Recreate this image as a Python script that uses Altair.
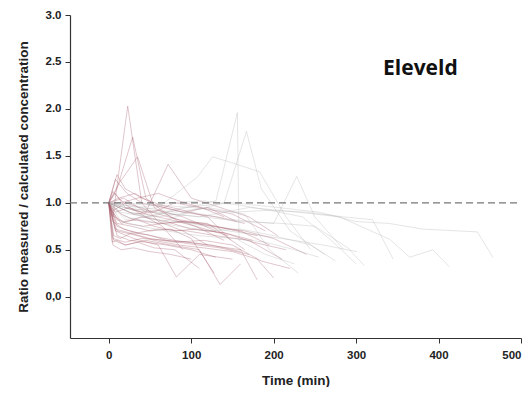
import altair as alt
import pandas as pd

# Each patient series: times (min), ratios measured/calculated, colour group
TIMES = [
    [0, 5, 23, 40, 60, 90, 120],
    [0, 10, 29, 45, 75, 105, 140],
    [0, 12, 35, 55, 85, 120, 165],
    [0, 18, 45, 72, 100, 135, 170, 205],
    [0, 30, 60, 107, 126, 155, 183, 215, 245],
    [0, 20, 55, 95, 130, 156, 158, 190, 225],
    [0, 30, 65, 105, 140, 167, 185, 220, 262],
    [0, 25, 60, 100, 150, 200, 228, 250, 285],
    [0, 15, 45, 90, 150, 205, 255, 300, 340, 381, 447, 466],
    [0, 20, 60, 110, 170, 230, 280, 308, 341, 365, 393, 413],
    [0, 8, 30, 60, 82, 110, 150],
    [0, 6, 20, 45, 75, 110, 135, 160],
    [0, 10, 25, 50, 80, 120, 160, 180],
    [0, 5, 15, 40, 70, 100, 140, 175],
    [0, 8, 20, 40, 60, 90, 130],
    [0, 12, 30, 55, 80, 110, 150, 190],
    [0, 5, 18, 35, 60, 95, 130, 170, 210],
    [0, 10, 25, 45, 70, 100, 130],
    [0, 8, 22, 40, 65, 90, 120, 155],
    [0, 15, 30, 60, 90, 125, 160, 195],
    [0, 6, 20, 38, 60, 85, 115, 145, 180],
    [0, 10, 28, 50, 75, 100, 128],
    [0, 7, 18, 35, 55, 80, 105, 140, 175, 215],
    [0, 12, 32, 55, 90, 130, 165],
    [0, 5, 15, 30, 50, 75, 100],
    [0, 10, 20, 40, 62, 90, 120, 148],
    [0, 20, 50, 85, 120, 160, 200, 245, 275],
    [0, 30, 70, 115, 160, 210, 250, 290, 310],
    [0, 25, 60, 100, 145, 185, 225, 260, 301],
    [0, 8, 25, 50, 80, 115, 150, 185, 220],
    [0, 15, 35, 60, 85, 112, 140],
    [0, 40, 80, 120, 165, 195, 230],
    [0, 6, 14, 28, 48, 70, 95, 125, 160],
    [0, 10, 22, 42, 66, 95, 128, 165, 200, 240],
    [0, 35, 75, 115, 155, 195, 235, 270, 300],
    [0, 5, 12, 25, 45, 65, 90],
    [0, 4, 10, 20, 35, 55, 80, 110],
    [0, 50, 100, 150, 195, 240, 285, 320, 345],
    [0, 10, 30, 55, 85, 115, 150, 180, 200],
    [0, 5, 20, 40, 70, 100, 135, 170],
    [0, 15, 40, 70, 110, 150, 190, 225, 255],
    [0, 8, 25, 45, 75, 105, 145],
]
RATIOS = [
    [1, 0.85, 2.03, 1.0, 0.8, 0.7, 0.55],
    [1, 1.15, 1.70, 1.05, 0.85, 0.75, 0.6],
    [1, 1.2, 1.49, 0.95, 0.8, 0.78, 0.5],
    [1, 1.05, 0.9, 1.41, 1.05, 0.95, 0.85, 0.65],
    [1, 0.92, 0.95, 1.27, 1.49, 1.41, 1.33, 0.85, 0.5],
    [1, 0.82, 0.86, 0.95, 1.02, 1.96, 0.6, 0.45, 0.35],
    [1, 0.88, 0.8, 0.92, 1.0, 1.76, 1.15, 0.7, 0.45],
    [1, 0.9, 0.85, 0.9, 0.82, 0.78, 1.28, 0.85, 0.5],
    [1, 0.9, 0.85, 0.95, 1.0, 0.95, 0.9, 0.8, 0.78, 0.72, 0.69, 0.42],
    [1, 0.95, 0.9, 0.85, 0.95, 0.9, 0.85, 0.74, 0.61, 0.42, 0.5, 0.32],
    [1, 0.7, 0.62, 0.55, 0.21, 0.45, 0.4],
    [1, 0.6, 0.55, 0.6, 0.55, 0.5, 0.13, 0.35],
    [1, 0.75, 0.7, 0.65, 0.6, 0.55, 0.5, 0.18],
    [1, 0.9, 0.78, 0.85, 0.8, 0.72, 0.68, 0.6],
    [1, 1.1, 0.95, 0.9, 0.92, 0.85, 0.7],
    [1, 0.95, 0.88, 0.9, 1.0, 0.95, 0.88, 0.7],
    [1, 0.8, 0.72, 0.68, 0.72, 0.7, 0.65, 0.6, 0.4],
    [1, 0.65, 0.6, 0.58, 0.55, 0.5, 0.42],
    [1, 1.25, 1.1, 1.0, 0.95, 0.9, 0.95, 0.8],
    [1, 0.88, 0.82, 0.78, 0.8, 0.75, 0.7, 0.55],
    [1, 0.92, 1.0, 0.95, 0.88, 0.82, 0.78, 0.72, 0.65],
    [1, 0.78, 0.75, 0.7, 0.72, 0.62, 0.25],
    [1, 0.85, 0.8, 0.82, 0.75, 0.7, 0.72, 0.68, 0.58, 0.5],
    [1, 1.05, 1.1, 0.98, 0.9, 0.85, 0.78],
    [1, 0.55, 0.5, 0.52, 0.48, 0.45, 0.4],
    [1, 1.3, 1.15, 1.05, 0.98, 0.92, 0.85, 0.6],
    [1, 0.85, 0.8, 0.75, 0.7, 0.72, 0.65, 0.55, 0.38],
    [1, 0.92, 0.88, 0.85, 0.8, 0.78, 0.75, 0.52, 0.33],
    [1, 0.9, 0.82, 0.78, 0.7, 0.65, 0.6, 0.55, 0.48],
    [1, 0.72, 0.68, 0.62, 0.58, 0.6, 0.55, 0.38, 0.3],
    [1, 1.0, 1.05, 1.1, 1.02, 0.95, 0.85],
    [1, 0.95, 0.9, 0.95, 0.88, 0.5, 0.25],
    [1, 0.65, 0.62, 0.68, 0.66, 0.6, 0.58, 0.55, 0.48],
    [1, 0.82, 0.78, 0.75, 0.78, 0.8, 0.75, 0.7, 0.62, 0.45],
    [1, 0.95, 1.0, 1.02, 0.98, 0.92, 0.85, 0.6, 0.35],
    [1, 1.12, 1.05, 0.95, 0.85, 0.75, 0.5],
    [1, 0.58, 0.6, 0.55, 0.58, 0.52, 0.5, 0.3],
    [1, 0.98, 0.95, 0.9, 0.92, 0.9, 0.85, 0.82, 0.4],
    [1, 0.7, 0.66, 0.6, 0.55, 0.52, 0.48, 0.4, 0.2],
    [1, 0.62, 0.58, 0.62, 0.6, 0.56, 0.52, 0.45],
    [1, 0.8, 0.75, 0.7, 0.65, 0.62, 0.58, 0.5, 0.42],
    [1, 0.9, 0.95, 0.88, 0.82, 0.75, 0.65],
]
GROUPS = list("rrrrggggggrrrrrrrrrrrrrrrrgggrrgrrgrrgrrgr")

X_TICKS = [0, 100, 200, 300, 400, 500]
Y_TICKS = [0.0, 0.5, 1.0, 1.5, 2.0, 2.5, 3.0]
X_DOMAIN = [-47, 500]
Y_DOMAIN = [-0.44, 3.0]
REF_LINE = {"x": [-47], "x2": [500], "y": [1.0]}
LABEL = {"x": [378], "y": [2.42], "text": ["Eleveld"]}

rows = []
for i, (ts, rs) in enumerate(zip(TIMES, RATIOS)):
    for t, r in zip(ts, rs):
        rows.append({"series": i, "time": t, "ratio": r, "group": GROUPS[i]})
df = pd.DataFrame(rows)

xscale = alt.Scale(domain=X_DOMAIN, nice=False, zero=False)
yscale = alt.Scale(domain=Y_DOMAIN, nice=False, zero=False)

lines = alt.Chart(df).mark_line(strokeWidth=0.8, opacity=0.42).encode(
    x=alt.X("time:Q", scale=xscale,
            axis=alt.Axis(title="Time (min)", values=X_TICKS, tickSize=5,
                          labelPadding=6, titlePadding=13)),
    y=alt.Y("ratio:Q", scale=yscale,
            axis=alt.Axis(title="Ratio measured / calculated concentration",
                          values=Y_TICKS, tickSize=5, labelPadding=4,
                          titlePadding=15,
                          labelExpr="datum.value == 0 ? '0,0' : format(datum.value, '.1f')")),
    detail="series:N",
    color=alt.Color("group:N", scale=alt.Scale(domain=["r", "g"], range=["#a35866", "#b0b0b0"]),
                    legend=None),
)

ref = alt.Chart(pd.DataFrame(REF_LINE)).mark_rule(
    color="#777777", strokeDash=[7, 4], strokeWidth=1.3
).encode(x=alt.X("x:Q", scale=xscale), x2="x2:Q", y=alt.Y("y:Q", scale=yscale))

label = alt.Chart(pd.DataFrame(LABEL)).mark_text(
    font="Open Sans", fontWeight="bold", fontSize=21, color="#111111"
).encode(x=alt.X("x:Q", scale=xscale), y=alt.Y("y:Q", scale=yscale), text="text:N")

chart = alt.layer(lines, ref, label).properties(
    width=451, height=323,
    autosize=alt.AutoSizeParams(type="none"),
    padding={"left": 62, "top": 7, "right": 2, "bottom": 49},
).configure_view(stroke=None).configure_axis(
    grid=False, domainColor="#333333", tickColor="#333333", domainWidth=1.2,
    labelFont="Liberation Sans", labelFontWeight="bold", labelFontSize=11.5,
    labelColor="#222222", titleFont="Liberation Sans", titleFontWeight="bold",
    titleFontSize=13.5, titleColor="#222222",
)

chart.save("out.html", embed_options={"renderer": "svg", "actions": False})
